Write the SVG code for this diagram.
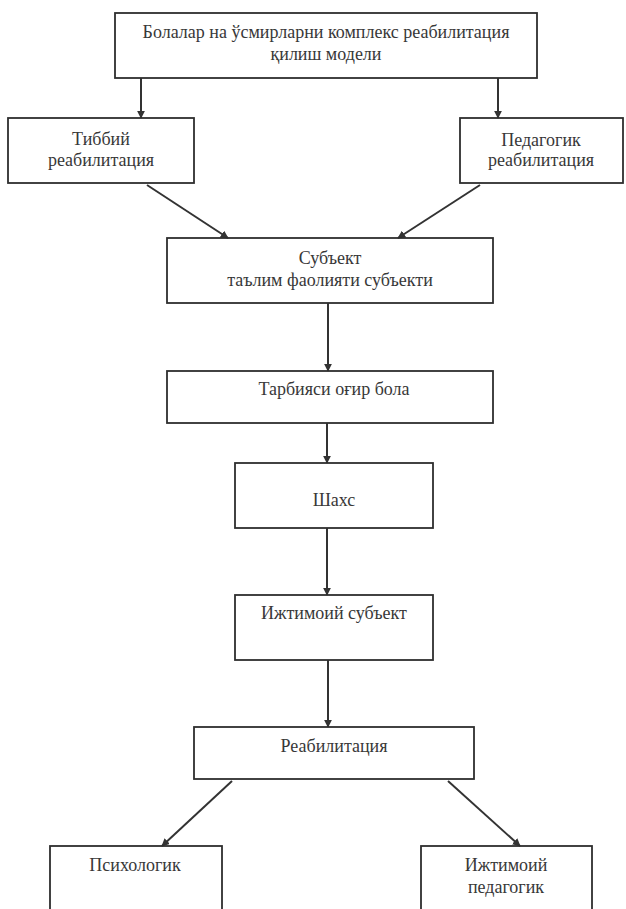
<svg xmlns="http://www.w3.org/2000/svg" width="626" height="909" viewBox="0 0 626 909">
<style>
.box{fill:none;stroke:#2e2e2e;stroke-width:1.8}
.t{font-family:"Liberation Serif","Times New Roman",serif;font-size:18px;fill:#383838;text-anchor:middle}
.c{stroke:#333;stroke-width:2;fill:none;marker-end:url(#ah)}
</style>
<defs>
<marker id="ah" viewBox="0 0 10 10" refX="9" refY="5" markerWidth="4" markerHeight="4" orient="auto" markerUnits="strokeWidth">
<path d="M0,0 L10,5 L0,10 z" fill="#333"/>
</marker>
</defs>
<rect width="626" height="909" fill="#ffffff"/>
<g id="connectors">
<line class="c" x1="141" y1="78" x2="141" y2="118"/>
<line class="c" x1="498" y1="78" x2="498" y2="118"/>
<line class="c" x1="147" y1="185" x2="228" y2="238"/>
<line class="c" x1="480" y1="185" x2="398" y2="238"/>
<line class="c" x1="328" y1="303" x2="328" y2="371"/>
<line class="c" x1="327" y1="423" x2="327" y2="463"/>
<line class="c" x1="327" y1="528" x2="327" y2="595"/>
<line class="c" x1="328" y1="660" x2="328" y2="727"/>
<line class="c" x1="232" y1="781" x2="162" y2="846"/>
<line class="c" x1="448" y1="781" x2="520" y2="846"/>
</g>
<g id="n-model">
<rect class="box" x="115" y="13" width="422" height="65"/>
<text class="t" x="326" y="38">Болалар на ўсмирларни комплекс реабилитация</text>
<text class="t" x="326" y="60">қилиш модели</text>
</g>
<g id="n-tibbiy">
<rect class="box" x="8" y="118" width="186" height="65"/>
<text class="t" x="101" y="145">Тиббий</text>
<text class="t" x="101" y="166">реабилитация</text>
</g>
<g id="n-pedagogik">
<rect class="box" x="460" y="118" width="163" height="65"/>
<text class="t" x="541" y="146">Педагогик</text>
<text class="t" x="541" y="166">реабилитация</text>
</g>
<g id="n-subyekt">
<rect class="box" x="167" y="238" width="326" height="65"/>
<text class="t" x="330" y="264">Субъект</text>
<text class="t" x="330" y="286">таълим фаолияти субъекти</text>
</g>
<g id="n-tarbiyasi">
<rect class="box" x="167" y="371" width="326" height="52"/>
<text class="t" x="334" y="395">Тарбияси оғир бола</text>
</g>
<g id="n-shaxs">
<rect class="box" x="235" y="463" width="198" height="65"/>
<text class="t" x="334" y="506">Шахс</text>
</g>
<g id="n-ijtimoiy-subyekt">
<rect class="box" x="235" y="595" width="198" height="65"/>
<text class="t" x="334" y="619">Ижтимоий субъект</text>
</g>
<g id="n-reabilitatsiya">
<rect class="box" x="194" y="727" width="280" height="52"/>
<text class="t" x="334" y="752">Реабилитация</text>
</g>
<g id="n-psixologik">
<rect class="box" x="50" y="846" width="172" height="70"/>
<text class="t" x="135" y="871">Психологик</text>
</g>
<g id="n-ijtimoiy-pedagogik">
<rect class="box" x="421" y="846" width="171" height="70"/>
<text class="t" x="506" y="871">Ижтимоий</text>
<text class="t" x="506" y="893">педагогик</text>
</g>
</svg>
